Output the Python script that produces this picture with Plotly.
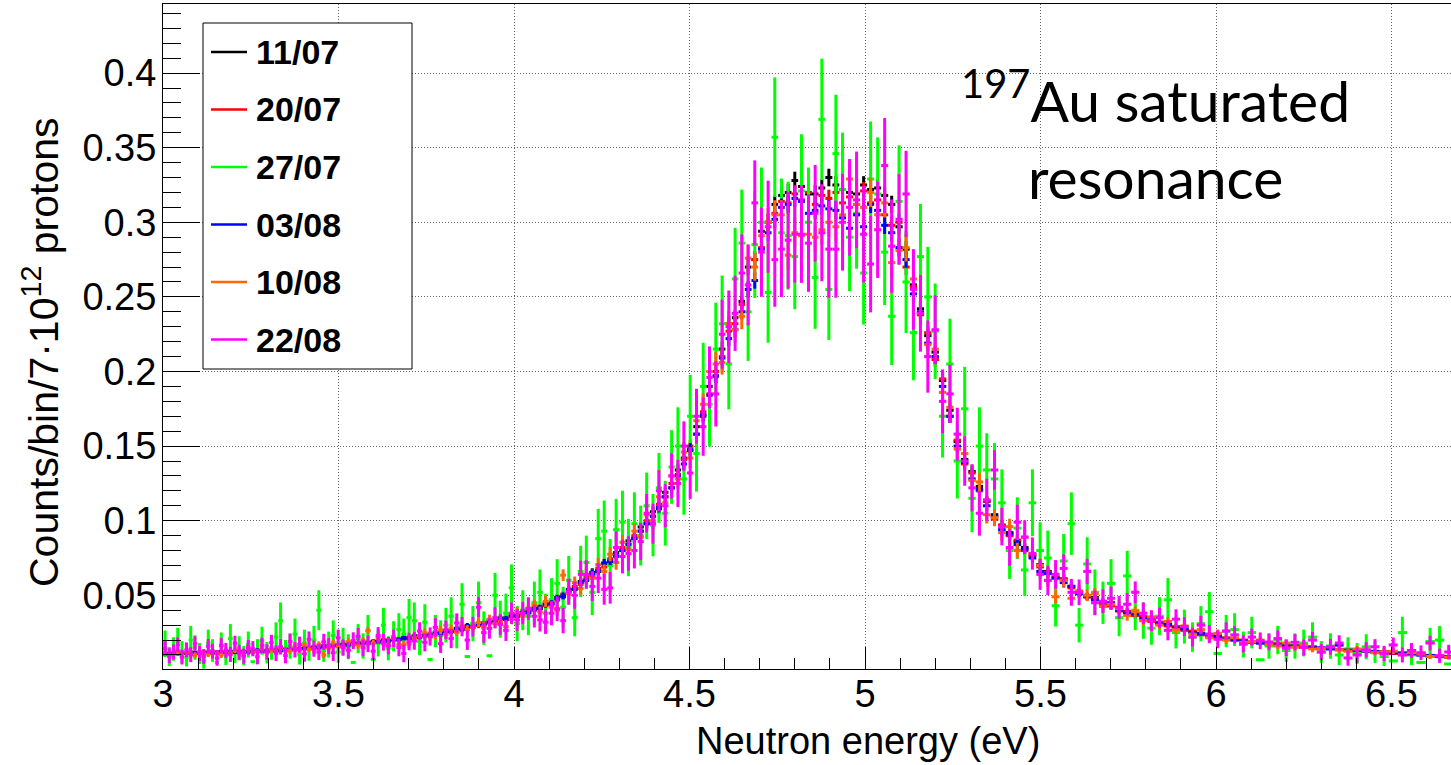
import numpy as np
import plotly.graph_objects as go

# ---------------- data ----------------
# bin centres in meV
energy_meV = [
    3006, 3018, 3030, 3042, 3054, 3067, 3079, 3091, 3104, 3116, 3129, 3141, 3154, 3166, 3179, 3192, 3205, 3217, 3230, 3243, 3256, 3269, 3282, 3296, 3309,
    3322, 3335, 3349, 3362, 3376, 3389, 3403, 3416, 3430, 3444, 3458, 3472, 3485, 3499, 3513, 3528, 3542, 3556, 3570, 3584, 3599, 3613, 3628, 3642, 3657,
    3672, 3686, 3701, 3716, 3731, 3746, 3761, 3776, 3791, 3806, 3821, 3837, 3852, 3867, 3883, 3899, 3914, 3930, 3946, 3961, 3977, 3993, 4009, 4025, 4041,
    4058, 4074, 4090, 4107, 4123, 4140, 4156, 4173, 4190, 4206, 4223, 4240, 4257, 4274, 4291, 4309, 4326, 4343, 4361, 4378, 4396, 4413, 4431, 4449, 4467,
    4484, 4502, 4520, 4539, 4557, 4575, 4593, 4612, 4630, 4649, 4667, 4686, 4705, 4724, 4743, 4762, 4781, 4800, 4819, 4839, 4858, 4877, 4897, 4917, 4936,
    4956, 4976, 4996, 5016, 5036, 5056, 5076, 5097, 5117, 5138, 5158, 5179, 5200, 5221, 5242, 5263, 5284, 5305, 5326, 5347, 5369, 5390, 5412, 5434, 5455,
    5477, 5499, 5521, 5543, 5566, 5588, 5610, 5633, 5655, 5678, 5701, 5724, 5747, 5770, 5793, 5816, 5839, 5863, 5886, 5910, 5933, 5957, 5981, 6005, 6029,
    6053, 6078, 6102, 6126, 6151, 6176, 6200, 6225, 6250, 6275, 6300, 6326, 6351, 6376, 6402, 6428, 6453, 6479, 6505, 6531, 6557, 6584, 6610, 6637, 6663,
]

# counts/bin/7e12 protons, in units of 1e-3
y_1107 = [
    11.2, 10.5, 11.4, 10.8, 11.6, 11.0, 11.9, 10.7, 11.3, 12.0, 11.1, 11.9, 11.2, 12.3, 11.5, 12.4, 11.7, 12.6, 11.8, 12.9, 12.0, 12.8, 12.2, 13.3, 12.5,
    13.6, 12.8, 14.0, 13.2, 14.5, 13.7, 15.0, 14.2, 15.6, 14.8, 16.2, 15.4, 16.9, 16.0, 17.4, 16.6, 18.0, 17.2, 18.7, 17.8, 19.2, 18.5, 20.1, 19.1, 20.9,
    20.0, 21.8, 21.0, 22.9, 21.8, 23.8, 22.9, 25.0, 24.1, 26.3, 25.6, 27.9, 27.0, 29.6, 28.7, 31.2, 30.1, 33.0, 32.0, 34.8, 33.8, 36.8, 36.0, 39.1, 38.2,
    41.5, 41.0, 44.6, 44.0, 48.6, 49.0, 53.8, 54.0, 59.3, 60.0, 65.4, 66.0, 71.5, 72.5, 78.6, 80.0, 86.5, 88.0, 95.8, 98.0, 106, 108, 119, 122, 134,
    142, 147, 163, 170, 190, 197, 215, 232, 236, 247, 270, 275, 294, 300, 312, 318, 320, 328, 324, 319, 319, 323, 330, 325, 322,
    320, 319, 325, 322, 323, 318, 312, 297, 282, 258, 242, 224, 213, 194, 174, 153, 141, 133, 123, 113, 104, 97, 92, 86, 82,
    77, 70.5, 66, 62, 61, 56, 52.5, 49, 48.5, 44, 43, 40.5, 39, 36.5, 35.5, 33.5, 31, 30.5, 28.5, 27.5, 25.5, 24.5, 23, 22.5, 21,
    20.5, 19.8, 18.9, 18.5, 17.3, 17.3, 16.4, 16.3, 15.3, 15.3, 14.4, 14.5, 13.6, 13.7, 12.8, 12.9, 12.0, 12.1, 11.2, 11.3, 10.4, 10.2, 9.6, 9.1, 8.8,
]
y_2007 = [
    10.6, 11.2, 10.9, 11.3, 10.8, 11.0, 11.5, 11.4, 11.0, 11.6, 11.8, 11.3, 11.9, 11.5, 12.1, 11.7, 11.9, 12.4, 12.0, 12.5, 12.1, 12.6, 12.3, 12.9, 13.1,
    12.7, 13.5, 13.1, 13.9, 13.5, 14.3, 14.0, 14.9, 14.6, 15.6, 15.2, 16.1, 15.9, 16.8, 16.3, 17.4, 17.0, 18.0, 17.6, 18.6, 18.3, 19.4, 18.9, 20.0, 19.9,
    20.9, 20.7, 21.9, 21.6, 22.9, 22.7, 24.0, 23.8, 25.3, 25.0, 26.8, 26.6, 28.3, 28.1, 29.9, 29.8, 31.6, 31.4, 33.4, 33.2, 35.3, 35.2, 37.4, 37.5, 39.8,
    40.0, 42.6, 43.0, 45.8, 46.8, 50.8, 52.0, 56.0, 57.3, 62.0, 63.2, 68.0, 69.0, 74.5, 76.0, 82.0, 84.0, 90.0, 93.0, 100, 103, 111, 116, 125, 131,
    141, 150, 158, 173, 185, 200, 210, 227, 232, 245, 255, 275, 283, 300, 306, 314, 313, 319, 315, 320, 312, 318, 316, 320, 313,
    317, 312, 321, 313, 315, 305, 298, 300, 270, 257, 238, 226, 208, 195, 170, 154, 138, 132, 120, 113, 101, 97, 90, 87, 80,
    76.5, 69, 65.5, 62, 60.5, 55, 52, 49, 48, 44, 43, 39.5, 39, 36.5, 35.5, 32.5, 32, 29.5, 29, 26.5, 26, 23.5, 23.5, 21.5, 21.5,
    19.8, 19.9, 18.4, 18.6, 17.2, 17.4, 16.1, 16.3, 15.1, 15.3, 14.2, 14.5, 13.5, 13.7, 12.7, 12.9, 11.9, 12.1, 11.1, 11.3, 10.3, 10.3, 9.3, 9.3, 8.4,
]
y_2707 = [
    17.5, 9.0, 14.0, 19.0, 12.0, 8.5, 20.0, 15.0, 11.0, 6.0, 18.0, 13.0, 5.0, 16.5, 10.0, 21.0, 12.0, 14.5, 9.5, 17.0, 5.5, 13.0, 19.5, 11.5, 15.0,
    22.0, 33.0, 12.5, 16.0, 24.0, 10.5, 18.0, 14.0, 20.0, 40.0, 13.0, 17.0, 23.0, 12.0, 19.0, 15.5, 5.0, 21.0, 16.0, 26.0, 7.0, 18.0, 30.0, 14.5, 22.5,
    27.0, 24.0, 35.0, 33.0, 19.0, 32.0, 7.0, 26.0, 23.0, 30.0, 36.0, 25.0, 44.0, 9.0, 31.0, 45.0, 28.0, 9.5, 50.0, 34.0, 38.0, 55.0, 31.0, 40.0, 36.0,
    45, 52, 38, 47, 58, 42, 60, 35, 66, 72, 52, 88, 93, 70, 94, 99, 82, 98, 90, 110, 97, 122, 105, 136, 150,
    128, 170, 145, 190, 178, 215, 232, 205, 262, 286, 240, 285, 300, 253, 357, 293, 291, 277, 321, 300, 263, 369, 255, 346, 322,
    290, 306, 266, 329, 319, 280, 237, 314, 260, 226, 277, 250, 227, 170, 205, 140, 175, 115, 150, 134, 128, 112, 80, 95, 67,
    112, 80, 75, 43, 73, 98, 30, 71, 52, 45, 58, 35, 63, 40, 33, 28, 36, 47, 25, 29, 22, 31, 39, 11, 26,
    27, 17, 25, 6.8, 16, 20, 13, 16, 18, 22, 12, 16, 10, 14, 11, 15.5, 12, 9, 6, 25, 10, 5, 19, 20, 4,
]
y_0308 = [
    11.0, 10.7, 11.3, 12.5, 10.9, 11.5, 11.0, 11.6, 11.2, 11.3, 11.8, 11.4, 11.9, 11.6, 12.0, 12.2, 11.8, 12.3, 12.4, 12.0, 12.6, 13.3, 12.7, 12.5, 13.3,
    13.1, 13.0, 13.7, 13.4, 14.0, 13.9, 14.6, 14.5, 15.2, 15.0, 15.9, 15.6, 16.4, 16.3, 17.0, 16.8, 17.7, 17.4, 18.3, 18.0, 18.9, 18.8, 19.6, 19.5, 20.5,
    20.3, 21.3, 21.2, 22.4, 22.1, 23.4, 23.2, 24.6, 24.4, 25.9, 25.8, 27.4, 27.4, 29.1, 29.0, 30.7, 30.6, 32.4, 32.3, 34.2, 34.2, 36.3, 36.2, 38.6, 38.7,
    40.8, 41.5, 43.9, 44.5, 47.9, 49.6, 53.0, 54.4, 58.6, 60.4, 64.5, 66.4, 71.6, 73.0, 76.5, 80.2, 84.3, 88.3, 93.0, 98.0, 103, 109, 116, 122, 130,
    138, 148, 158, 171, 184, 197, 209, 222, 228, 240, 255, 261, 282, 293, 302, 310, 312, 316, 314, 306, 308, 311, 309, 308, 303,
    296, 305, 297, 312, 308, 298, 293, 283, 275, 252, 240, 219, 210, 190, 170, 150, 139, 128, 121, 110, 103, 94, 91, 84, 81,
    75, 66, 64.5, 61.5, 58.5, 56, 51, 49.5, 47, 45.5, 45, 40, 38, 37.5, 34.5, 33.5, 31, 30.5, 28, 27.5, 25, 24.5, 22.5, 22.5, 20.5,
    20.4, 19.2, 19.0, 17.9, 17.8, 16.7, 16.7, 15.8, 15.7, 14.8, 14.8, 14.0, 16.6, 13.2, 13.2, 12.4, 12.4, 11.6, 11.6, 10.8, 10.8, 9.9, 9.7, 8.9, 8.9,
]
y_1008 = [
    11.5, 9.8, 10.4, 12.1, 10.0, 11.8, 10.6, 9.9, 12.3, 11.0, 10.5, 12.6, 11.1, 10.2, 12.9, 11.4, 13.1, 10.9, 12.0, 14.0, 11.8, 12.2, 14.3, 11.9, 13.5,
    12.4, 14.6, 13.0, 12.8, 15.2, 13.5, 16.4, 14.0, 13.8, 16.9, 10.0, 14.6, 18.2, 16.0, 15.4, 18.9, 17.0, 16.5, 19.5, 26.5, 18.0, 21.5, 17.5, 17.2, 21.0,
    17.0, 16.8, 17.3, 21.5, 22.8, 24.9, 22.0, 23.4, 26.8, 23.8, 27.5, 25.6, 29.8, 27.0, 28.5, 31.8, 29.2, 33.9, 31.0, 32.5, 29.0, 33.9, 38.5, 36.0, 41.5,
    43.5, 38.8, 45.9, 42.0, 40.0, 63.5, 51.0, 58.5, 54.5, 64.0, 61.5, 70.5, 66.0, 77.5, 72.0, 85.5, 80.5, 93.0, 89.0, 104, 100, 116, 112, 130, 128,
    146, 142, 167, 178, 200, 205, 206, 232, 228, 237, 276, 270, 291, 300, 305, 305, 278, 293, 291, 292, 290, 295, 300, 297, 305,
    329, 312, 310, 320, 305, 313, 273, 281, 283, 262, 239, 218, 215, 186, 176, 148, 145, 127, 126, 104, 102, 92, 96, 80, 89,
    78, 70, 60, 49, 60, 48, 53, 50, 51, 42.5, 44, 41, 36.5, 39, 33, 35.5, 30, 32.5, 27, 29.5, 24, 27, 21.5, 24.5, 20,
    21.5, 18.5, 19.0, 20.0, 17.0, 16.0, 18.0, 15.2, 17.0, 14.0, 14.3, 15.5, 13.5, 12.5, 14.0, 12.8, 11.5, 12.0, 12.5, 10.2, 11.5, 10.6, 9.0, 9.5, 8.5,
]
y_2208 = [
    14.5, 9.5, 12.0, 16.8, 8.6, 13.4, 10.2, 17.5, 11.0, 9.0, 15.8, 12.5, 7.9, 16.2, 13.0, 10.4, 17.8, 11.8, 9.2, 15.0, 14.2, 8.8, 16.5, 12.0, 18.3,
    11.2, 15.5, 9.6, 19.0, 13.5, 17.0, 10.8, 20.5, 14.2, 12.0, 18.8, 16.0, 11.5, 21.5, 15.0, 13.2, 19.6, 22.5, 14.8, 17.5, 12.5, 23.0, 18.6, 16.2, 21.2,
    15.0, 11.0, 19.0, 19.5, 26.0, 18.5, 22.4, 28.5, 17.6, 26.8, 21.0, 31.5, 29.0, 20.0, 29.0, 42.0, 25.0, 27.8, 35.0, 30.5, 26.5, 38.0, 33.5, 38.0, 41.0,
    36.0, 33.5, 32.0, 38.0, 41.0, 33.0, 52.5, 50.0, 64.0, 64.0, 56.0, 61.5, 54.0, 55.0, 82.0, 76.0, 78.0, 80.0, 86.0, 105, 98.0, 120, 110, 130, 125,
    150, 132, 170, 163, 196, 185, 225, 230, 239, 266, 258, 313, 280, 297, 275, 282, 288, 292, 292, 286, 306, 293, 282, 282, 300,
    310, 315, 292, 272, 295, 338, 284, 302, 319, 255, 239, 210, 228, 180, 185, 158, 140, 122, 105, 114, 134, 96, 82, 99, 89,
    78, 64, 60, 64, 68, 52, 52, 66, 45, 46, 48, 42, 44, 52, 38, 33, 35, 26.5, 34, 29, 22, 30, 24, 20.5, 26,
    23.5, 17.5, 22.0, 19.5, 18.7, 21.0, 14.7, 18.5, 15.0, 20.0, 12.0, 15.5, 18.0, 8.0, 10.0, 13.5, 15.5, 11.0, 16.7, 10.0, 13.0, 11.5, 18.0, 9.5, 12.0,
]

# statistical errors, units of 1e-3
err_high_stat = [  # runs 11/07, 20/07, 03/08
    1.1, 1.1, 1.1, 1.1, 1.1, 1.1, 1.1, 1.1, 1.1, 1.1, 1.1, 1.1, 1.1, 1.2, 1.2, 1.2, 1.2, 1.2, 1.2, 1.2, 1.2, 1.2, 1.2, 1.2, 1.2,
    1.2, 1.2, 1.2, 1.2, 1.2, 1.2, 1.3, 1.3, 1.3, 1.3, 1.3, 1.3, 1.3, 1.3, 1.4, 1.4, 1.4, 1.4, 1.4, 1.4, 1.4, 1.4, 1.5, 1.5, 1.5,
    1.5, 1.5, 1.5, 1.6, 1.6, 1.6, 1.6, 1.6, 1.7, 1.7, 1.7, 1.7, 1.7, 1.8, 1.8, 1.8, 1.8, 1.9, 1.9, 1.9, 1.9, 2.0, 2.0, 2.1, 2.1,
    2.1, 2.1, 2.2, 2.2, 2.3, 2.3, 2.4, 2.5, 2.5, 2.6, 2.7, 2.7, 2.8, 2.8, 2.9, 3.0, 3.1, 3.1, 3.2, 3.3, 3.4, 3.5, 3.6, 3.7, 3.8,
    3.9, 4.0, 4.2, 4.3, 4.5, 4.7, 4.8, 5.0, 5.1, 5.2, 5.3, 5.5, 5.6, 5.7, 5.8, 5.9, 5.9, 5.9, 5.9, 5.9, 5.9, 5.9, 5.9, 5.9, 5.9,
    5.9, 5.9, 5.9, 5.9, 5.9, 5.8, 5.8, 5.7, 5.5, 5.3, 5.1, 5.0, 4.8, 4.6, 4.4, 4.1, 3.9, 3.8, 3.7, 3.5, 3.4, 3.2, 3.2, 3.1, 3.0,
    2.9, 2.8, 2.7, 2.6, 2.6, 2.5, 2.4, 2.3, 2.3, 2.2, 2.2, 2.1, 2.1, 2.0, 2.0, 1.9, 1.9, 1.8, 1.8, 1.7, 1.7, 1.6, 1.6, 1.6, 1.5,
    1.5, 1.5, 1.4, 1.4, 1.4, 1.4, 1.3, 1.3, 1.3, 1.3, 1.3, 1.2, 1.2, 1.2, 1.2, 1.2, 1.2, 1.1, 1.1, 1.1, 1.1, 1.0, 1.0, 1.0, 1.0,
]
err_1008 = [
    1.8, 1.8, 1.8, 1.8, 1.9, 1.9, 1.9, 1.9, 1.9, 1.9, 1.9, 1.9, 1.9, 1.9, 1.9, 1.9, 1.9, 1.9, 2.0, 2.0, 2.0, 2.0, 2.0, 2.0, 2.0,
    2.0, 2.0, 2.0, 2.1, 2.1, 2.1, 2.1, 2.1, 2.2, 2.2, 2.2, 2.2, 2.2, 2.3, 2.3, 2.3, 2.3, 2.3, 2.4, 2.4, 2.4, 2.4, 2.5, 2.5, 2.5,
    2.5, 2.6, 2.6, 2.6, 2.6, 2.7, 2.7, 2.7, 2.8, 2.8, 2.9, 2.9, 2.9, 3.0, 3.0, 3.1, 3.1, 3.1, 3.2, 3.2, 3.3, 3.3, 3.4, 3.4, 3.5,
    3.5, 3.6, 3.7, 3.7, 3.8, 3.9, 4.0, 4.1, 4.2, 4.3, 4.5, 4.6, 4.7, 4.8, 4.9, 5.0, 5.1, 5.3, 5.4, 5.5, 5.7, 5.8, 6.0, 6.2, 6.4,
    6.6, 6.8, 7.0, 7.3, 7.6, 7.9, 8.1, 8.4, 8.5, 8.7, 8.9, 9.2, 9.4, 9.6, 9.8, 9.8, 9.9, 9.9, 9.9, 9.9, 9.9, 9.9, 9.9, 9.9, 9.9,
    9.9, 9.9, 9.9, 9.9, 9.9, 9.8, 9.7, 9.5, 9.3, 8.9, 8.6, 8.3, 8.1, 7.7, 7.3, 6.9, 6.6, 6.4, 6.1, 5.9, 5.7, 5.5, 5.3, 5.2, 5.0,
    4.9, 4.7, 4.5, 4.4, 4.3, 4.2, 4.0, 3.9, 3.8, 3.7, 3.6, 3.5, 3.5, 3.4, 3.3, 3.2, 3.1, 3.0, 3.0, 2.9, 2.8, 2.7, 2.7, 2.6, 2.6,
    2.5, 2.5, 2.4, 2.4, 2.3, 2.3, 2.3, 2.2, 2.2, 2.2, 2.1, 2.1, 2.1, 2.0, 2.0, 2.0, 1.9, 1.9, 1.9, 1.8, 1.8, 1.8, 1.7, 1.7, 1.6,
]
err_2208 = [
    5.0, 5.0, 5.0, 5.0, 5.0, 5.0, 5.0, 5.0, 5.0, 5.0, 5.0, 5.0, 5.1, 5.1, 5.1, 5.1, 5.1, 5.1, 5.1, 5.1, 5.1, 5.1, 5.1, 5.1, 5.2,
    5.2, 5.2, 5.2, 5.2, 5.2, 5.3, 5.3, 5.3, 5.4, 5.4, 5.4, 5.4, 5.5, 5.5, 5.5, 5.5, 5.6, 5.6, 5.6, 5.6, 5.7, 5.7, 5.7, 5.8, 5.8,
    5.9, 5.9, 5.9, 6.0, 6.0, 6.1, 6.1, 6.2, 6.2, 6.3, 6.4, 6.4, 6.5, 6.6, 6.6, 6.7, 6.8, 6.9, 7.0, 7.0, 7.1, 7.2, 7.3, 7.4, 7.5,
    7.6, 7.8, 7.9, 8.1, 8.3, 8.5, 8.7, 9.0, 9.2, 9.5, 9.8, 10.0, 10.3, 10.6, 10.9, 11.3, 11.6, 12.0, 12.5, 12.9, 13.4, 13.9, 14.5, 15.2, 15.9,
    16.6, 17.4, 18.4, 19.5, 20.8, 21.9, 23.1, 24.3, 25.2, 25.9, 27.2, 28.5, 29.9, 30.9, 31.6, 32.1, 32.4, 32.5, 32.6, 32.6, 32.4, 32.5, 32.6, 32.6, 32.4,
    32.4, 32.4, 32.4, 32.4, 32.3, 31.9, 31.3, 30.3, 28.9, 27.0, 25.7, 24.2, 23.1, 21.4, 19.5, 17.7, 16.6, 15.8, 15.0, 14.1, 13.3, 12.6, 12.2, 11.7, 11.3,
    10.8, 10.3, 9.9, 9.6, 9.4, 9.0, 8.6, 8.5, 8.3, 8.0, 7.8, 7.6, 7.5, 7.3, 7.2, 7.0, 6.8, 6.7, 6.6, 6.4, 6.3, 6.2, 6.1, 6.0, 5.9,
    5.8, 5.8, 5.7, 5.6, 5.6, 5.5, 5.5, 5.4, 5.4, 5.4, 5.3, 5.3, 5.2, 5.2, 5.2, 5.1, 5.1, 5.1, 5.0, 5.0, 5.0, 4.9, 4.9, 4.8, 4.8,
]
err_2707 = [
    8.9, 6.4, 7.9, 9.2, 7.3, 6.2, 9.5, 8.2, 7.0, 5.2, 9.0, 7.6, 0.4, 8.6, 6.7, 9.7, 7.3, 8.1, 6.5, 8.7, 0.4, 7.6, 9.4, 7.2, 8.2,
    9.9, 12.2, 7.5, 8.5, 10.4, 6.9, 9.0, 7.9, 9.5, 13.4, 7.6, 8.7, 10.2, 7.3, 9.2, 8.4, 0.4, 9.7, 8.5, 10.8, 0.4, 9.0, 11.6, 8.1, 10.1,
    11.0, 10.4, 12.5, 12.2, 9.2, 12.0, 0.4, 10.8, 10.2, 11.6, 12.7, 10.6, 14.1, 0.4, 11.8, 14.2, 11.2, 0.4, 15.0, 12.4, 13.1, 15.7, 11.8, 13.4, 12.7,
    14.2, 15.3, 13.1, 14.5, 16.2, 13.7, 16.4, 12.5, 17.2, 18.0, 15.3, 19.9, 20.5, 17.7, 20.6, 21.1, 19.2, 21.0, 20.1, 22.2, 20.9, 23.4, 21.7, 24.7, 26.0,
    24.0, 27.7, 25.5, 29.2, 28.3, 31.1, 32.3, 30.4, 34.3, 35.9, 32.9, 35.8, 36.7, 33.7, 40.1, 36.3, 36.2, 35.3, 38.0, 36.7, 34.4, 40.7, 33.9, 39.5, 38.1,
    36.1, 37.1, 34.6, 38.5, 37.9, 35.5, 32.7, 37.6, 34.2, 31.9, 35.3, 33.5, 32.0, 27.7, 30.4, 25.1, 28.1, 22.7, 26.0, 24.6, 24.0, 22.4, 19.0, 20.7, 17.4,
    22.4, 19.0, 18.4, 13.9, 18.1, 21.0, 11.6, 17.9, 15.3, 14.2, 16.2, 12.5, 16.8, 13.4, 12.2, 11.2, 12.7, 14.5, 10.6, 11.4, 9.9, 11.8, 13.2, 0.4, 10.8,
    11.0, 8.7, 10.6, 0.4, 8.5, 9.5, 7.6, 8.5, 9.0, 9.9, 7.3, 8.5, 6.7, 7.9, 7.0, 8.4, 7.3, 6.4, 0.4, 10.6, 6.7, 0.4, 9.2, 9.5, 0.4,
]

run_labels = ["11/07", "20/07", "27/07", "03/08", "10/08", "22/08"]
run_colors = ["#000000", "#ff0000", "#00ff00", "#0000ff", "#ff6600", "#ff00ff"]
run_values = [y_1107, y_2007, y_2707, y_0308, y_1008, y_2208]
run_errors = [err_high_stat, err_high_stat, err_2707, err_high_stat, err_1008, err_2208]

x_title = "Neutron energy (eV)"
y_title = "Counts/bin/7\u00b710<sup>12</sup> protons"

for arr in run_values + run_errors:
    assert len(arr) == len(energy_meV), len(arr)

# ---------------- figure ----------------
W, H = 1451, 765
PL, PR, PT, PB = 163, 1451, 4, 669  # plot area in pixels


def px(x):
    return (x - PL) / (PR - PL)


def py(y):
    return (PB - y) / (PB - PT)


E = np.array(energy_meV) / 1000.0
half_w = np.gradient(E) / 2.0
SCALE = 1e-3

fig = go.Figure()
for lab, col, vals, errs in zip(run_labels, run_colors, run_values, run_errors):
    fig.add_trace(go.Scatter(
        x=E, y=np.array(vals) * SCALE, name=lab, mode="markers",
        marker=dict(size=2, color=col),
        error_x=dict(type="data", array=half_w, width=0, thickness=3, color=col),
        error_y=dict(type="data", array=np.array(errs) * SCALE, width=0, thickness=3, color=col),
        showlegend=False, hoverinfo="skip",
    ))

font_main = "Liberation Sans, Arial, Helvetica, sans-serif"
grid_kw = dict(showgrid=True, gridcolor="#666666", gridwidth=1, griddash="1px,2px")

fig.update_xaxes(
    range=[3.0, 3.0 + (PR - PL) / 351.0], tickmode="linear", tick0=0, dtick=0.5,
    ticks="inside", ticklen=22, tickwidth=1, tickcolor="black",
    minor=dict(dtick=0.1, ticks="inside", ticklen=11, tickwidth=1, tickcolor="black", showgrid=False),
    showline=True, linecolor="black", linewidth=1, mirror=True, zeroline=False,
    tickfont=dict(family=font_main, size=38, color="black"), ticklabelstandoff=-9, **grid_kw,
)
fig.update_yaxes(
    range=[0.0006, 0.4463], tickmode="linear", tick0=0, dtick=0.05,
    ticks="inside", ticklen=37, tickwidth=1, tickcolor="black",
    minor=dict(dtick=0.01, ticks="inside", ticklen=18, tickwidth=1, tickcolor="black", showgrid=False),
    showline=True, linecolor="black", linewidth=1, mirror=False, zeroline=False,
    tickfont=dict(family=font_main, size=38, color="black"), ticklabelstandoff=-2, **grid_kw,
)

annotations = [
    dict(text=x_title, x=px(868), y=py(741), xref="paper", yref="paper", showarrow=False,
         xanchor="center", yanchor="middle", font=dict(family=font_main, size=38, color="black")),
    dict(text=y_title, x=px(41), y=py(352), xref="paper", yref="paper", showarrow=False, textangle=-90,
         xanchor="center", yanchor="middle", font=dict(family=font_main, size=41, color="black")),
    dict(text="<sup>197</sup>Au saturated", x=px(1155), y=py(136), xref="paper", yref="paper", showarrow=False,
         xanchor="center", yanchor="bottom", font=dict(family="Lato, Carlito, sans-serif", size=57, color="black")),
    dict(text="resonance", x=px(1155), y=py(213), xref="paper", yref="paper", showarrow=False,
         xanchor="center", yanchor="bottom", font=dict(family="Lato, Carlito, sans-serif", size=57, color="black")),
]

# legend box (ROOT TLegend style)
shapes = [dict(type="rect", xref="paper", yref="paper", x0=px(203), x1=px(412), y0=py(369), y1=py(23),
               line=dict(color="black", width=1), fillcolor="white", layer="above")]
row0, row_step = 52, 57.5
for i, (lab, col) in enumerate(zip(run_labels, run_colors)):
    yc = row0 + i * row_step
    shapes.append(dict(type="line", xref="paper", yref="paper", x0=px(211), x1=px(247), y0=py(yc), y1=py(yc),
                       line=dict(color=col, width=2.5), layer="above"))
    annotations.append(dict(text="<b>%s</b>" % lab, x=px(254), y=py(yc), xref="paper", yref="paper",
                            showarrow=False, xanchor="left", yanchor="middle",
                            font=dict(family=font_main, size=34, color="black")))

fig.update_layout(
    width=W, height=H, autosize=False,
    margin=dict(l=PL, r=W - PR, t=PT, b=H - PB, pad=0),
    paper_bgcolor="white", plot_bgcolor="white",
    showlegend=False, annotations=annotations, shapes=shapes,
    font=dict(family=font_main, color="black"),
)

fig.write_html("out.html")
